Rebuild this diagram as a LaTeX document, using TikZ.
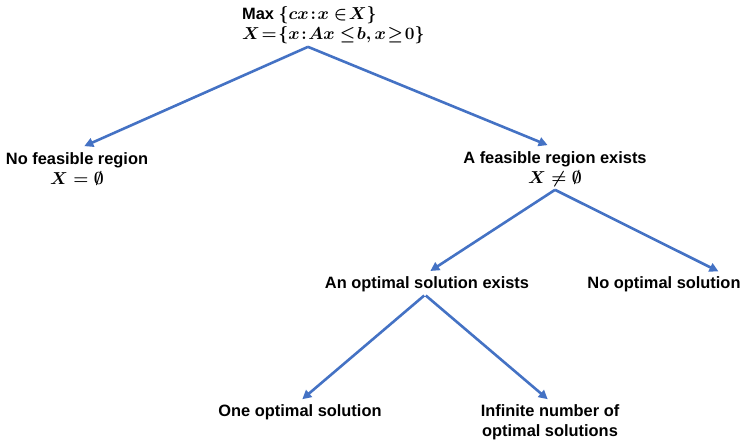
\documentclass[tikz,border=0pt]{standalone}
\usepackage{amsmath,amssymb}
\usepackage{fontspec}
\setmainfont{Liberation Sans}
\usetikzlibrary{arrows.meta}
\definecolor{linkblue}{RGB}{68,114,196}
\newcommand{\tightmath}{\thickmuskip=1.5mu\relax\medmuskip=1mu\relax}

\begin{document}
\begin{tikzpicture}[x=1pt, y=-1pt,
        case/.style={align=center, inner sep=3pt, font=\fontsize{16.4}{20}\selectfont\bfseries\boldmath},
        tight/.style={font=\fontsize{16.4}{20}\selectfont\bfseries\boldmath\tightmath},
        link/.style={-{Triangle[length=9pt,width=9pt]}, line width=2.6pt, color=linkblue}]
        \useasboundingbox (0,0) rectangle (745,440);

        % Problem statement
        \node[case, tight, align=left, anchor=west] (problem) at (239,25)
            {Max $\{cx : x\,\in X\}$\\$X=\{x : Ax\,\le b, x \ge 0\}$};

        % First split: feasibility
        \node[case] (nofeas) at (77,169) {No feasible region\\$X=\emptyset$};
        \node[case] (feas) at (555,169) {A feasible region exists\\$X\neq\emptyset$};
        \draw[link, shorten >=8pt] (problem.south -| 308,0) -- (nofeas.north);
        \draw[link, shorten >=8pt] (problem.south -| 308,0) -- (feas.north);

        % Second split: optimality
        \node[case] (opt) at (427,284) {An optimal solution exists};
        \node[case] (noopt) at (664,284) {No optimal solution};
        \draw[link, shorten >=4pt] (feas.south) -- (opt.north);
        \draw[link, shorten >=4pt] (feas.south) -- ([xshift=58pt]noopt.north);

        % Third split: number of optima
        \node[case] (oneopt) at (300,412) {One optimal solution};
        \node[case] (infopt) at (550,422) {Infinite number of\\optimal solutions};
        \draw[link, shorten <=1pt, shorten >=3pt] ([xshift=-2pt]opt.south) -- (oneopt.north);
        \draw[link, shorten <=1pt, shorten >=3pt] ([xshift=-2pt]opt.south) -- (infopt.north);

    \end{tikzpicture}
\end{document}
